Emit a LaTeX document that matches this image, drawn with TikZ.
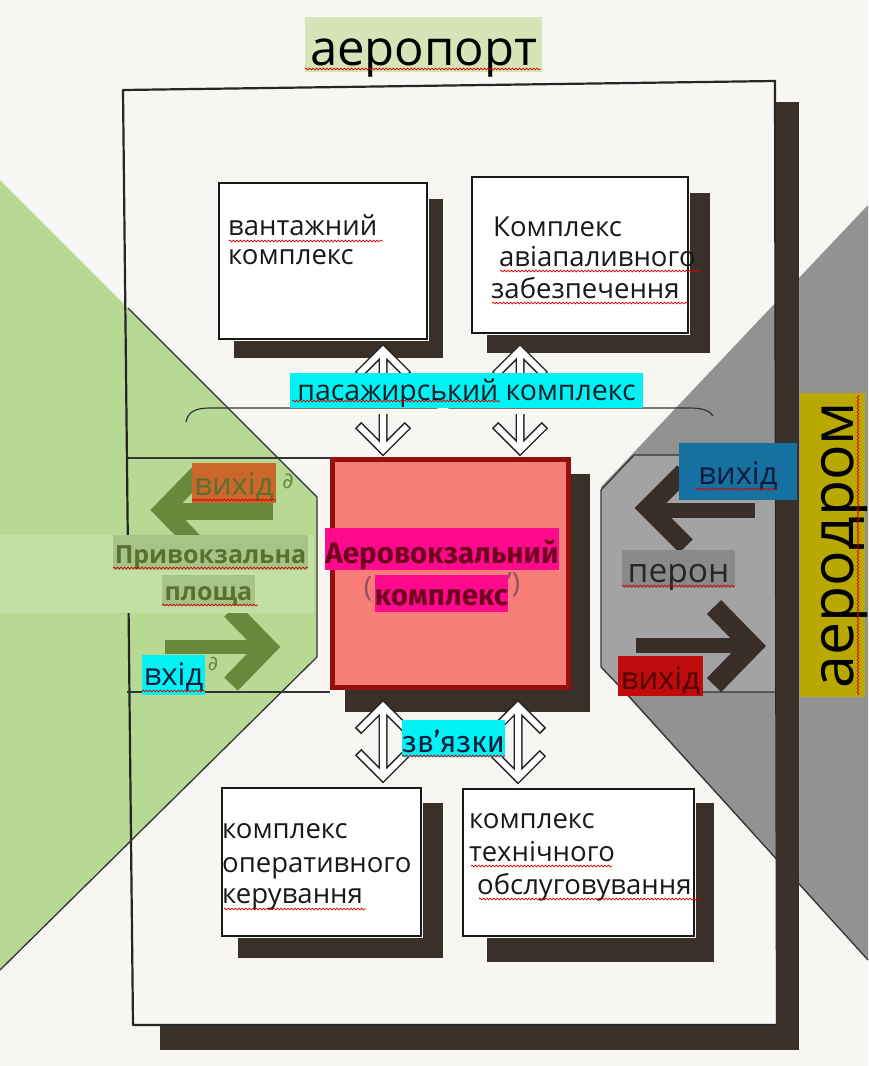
\documentclass[tikz,border=0pt]{standalone}
\usepackage{fontspec}
\setmainfont{Open Sans}
\newfontfamily\condfont{Fira Sans}
\newfontfamily\dvfont{DejaVu Sans}
\usetikzlibrary{calc,decorations.pathmorphing}
\definecolor{bgc}{RGB}{248,246,243}
\definecolor{grn}{RGB}{184,217,148}
\definecolor{grnband}{RGB}{194,223,164}
\definecolor{gry}{RGB}{146,146,146}
\definecolor{gryin}{RGB}{163,163,163}
\definecolor{shad}{RGB}{58,48,42}
\definecolor{titlebg}{RGB}{214,228,183}
\definecolor{cyanhl}{RGB}{0,242,242}
\definecolor{pinkfill}{RGB}{247,125,120}
\definecolor{pinkbd}{RGB}{150,15,15}
\definecolor{mgn}{RGB}{255,10,140}
\definecolor{avtext}{RGB}{110,0,30}
\definecolor{agreen}{RGB}{104,136,60}
\definecolor{orhl}{RGB}{205,102,44}
\definecolor{pvhl}{RGB}{166,196,134}
\definecolor{pvtext}{RGB}{88,114,46}
\definecolor{bluehl}{RGB}{22,112,160}
\definecolor{navy}{RGB}{12,28,60}
\definecolor{peronhl}{RGB}{138,138,138}
\definecolor{redhl}{RGB}{190,12,12}
\definecolor{redtext}{RGB}{80,0,0}
\definecolor{aerohl}{RGB}{184,168,0}
\definecolor{brarrow}{RGB}{58,46,40}
\definecolor{txtdark}{RGB}{16,30,40}
\newcommand\fsz[2]{\fontsize{#1}{#2}\selectfont}
\newcommand\hollowone[3]{%
  \foreach \lw/\cl/\L in {9/black!85/25,6/white/23.8}{%
    \draw[line width=\lw pt, draw=\cl, line join=miter] (#1) -- (#2) ($(#2)+(-\L,#3*\L)$) -- (#2) -- ($(#2)+(\L,#3*\L)$);
  }}
\newcommand\hollowtwo[2]{%
  \foreach \lw/\cl/\L in {9/black!85/25,6/white/23.8}{%
    \draw[line width=\lw pt, draw=\cl, line join=miter] (#1) -- (#2) ($(#1)+(-\L,\L)$) -- (#1) -- ($(#1)+(\L,\L)$) ($(#2)+(-\L,-\L)$) -- (#2) -- ($(#2)+(\L,-\L)$);
  }}
\begin{document}
\begin{tikzpicture}[x=1pt,y=-1pt,
  hl/.style={fill=#1, inner sep=0pt, anchor=base},
  cbox/.style={draw=black!90, line width=2.2pt, fill=white, inner sep=0pt, anchor=north west},
  btxt/.style={anchor=base west, inner sep=0pt, font=\fsz{27.5}{33}, text=black!90},
  spell/.style={draw=red!85!black, line width=0.7pt, decorate, decoration={snake, amplitude=0.9pt, segment length=3.5pt}},
  thinl/.style={draw=black!80, line width=1.3pt},
  framel/.style={draw=black!85, line width=2.2pt, line join=round}]
\useasboundingbox (0,0) rectangle (868,1066);
\fill[bgc] (0,0) rectangle (868,1066);
% side regions
\fill[grn] (0,180) -- (317,497) -- (317,657) -- (0,970) -- cycle;
\fill[gry] (868,205) -- (601,487) -- (601,667) -- (868,960) -- cycle;
\fill[gryin] (634,455) -- (777,455) -- (777,692) -- (625,692) -- (601,667) -- (601,490) -- cycle;
% frame
\draw[framel] (123,90) -- (775,81) -- (777,1025) -- (133,1025) -- cycle;
\fill[shad] (776,102) rectangle (799,1050);
\fill[shad] (160,1026) rectangle (799,1050);
% diagonals and platform outlines
\draw[thinl] (128,308) -- (317,497) -- (317,657) -- (0,970);
\draw[thinl] (127,458) -- (330,458);
\draw[thinl] (127,692) -- (330,692);
\draw[thinl] (777,455) -- (634,455) -- (601,490) -- (601,667) -- (625,692) -- (777,692);
\draw[thinl] (625,692) -- (868,960);
% brace
\draw[draw=black!80, line width=1.2pt] (186,422) .. controls (188,412) and (195,408) .. (210,408) -- (436,408) .. controls (440,408) and (442,405) .. (443,403) .. controls (444,405) and (446,408) .. (450,408) -- (690,408) .. controls (703,408) and (710,411) .. (713,416);
% boxes
\node[cbox, minimum width=208pt, minimum height=156pt] (b1) at (218,182) {};
\node[cbox, minimum width=216pt, minimum height=156pt] (b2) at (471,176) {};
\node[cbox, minimum width=199pt, minimum height=148pt] (b3) at (221,787) {};
\node[cbox, minimum width=231pt, minimum height=147pt] (b4) at (462,788) {};
\fill[shad] ($(b1.north east)+(1,17)$) rectangle ($(b1.south east)+(15,18)$);
\fill[shad] ($(b1.south west)+(16,1)$) rectangle ($(b1.south east)+(15,18)$);
\fill[shad] ($(b2.north east)+(1,17)$) rectangle ($(b2.south east)+(21,19)$);
\fill[shad] ($(b2.south west)+(16,1)$) rectangle ($(b2.south east)+(21,19)$);
\fill[shad] ($(b3.north east)+(1,16)$) rectangle ($(b3.south east)+(21,21)$);
\fill[shad] ($(b3.south west)+(17,1)$) rectangle ($(b3.south east)+(21,21)$);
\fill[shad] ($(b4.north east)+(1,15)$) rectangle ($(b4.south east)+(19,25)$);
\fill[shad] ($(b4.south west)+(25,1)$) rectangle ($(b4.south east)+(19,25)$);
% central block
\fill[shad] (345,474) rectangle (590,712);
\node[draw=pinkbd, line width=5pt, fill=pinkfill, inner sep=0pt, minimum width=236pt, minimum height=228pt, anchor=north west] (av) at (330,457) {};
% solid arrows
\draw[line width=17pt, draw=agreen] (163,511) -- (273,511);
\draw[line width=18pt, draw=agreen, line join=miter] (200,472) -- (163,510) -- (200,548);
\draw[line width=14pt, draw=agreen] (165,647) -- (262,647);
\draw[line width=19pt, draw=agreen, line join=miter] (231,610) -- (267,647) -- (231,684);
\draw[line width=15pt, draw=brarrow] (648,510) -- (755,510);
\draw[line width=19pt, draw=brarrow, line join=miter] (684,472) -- (648,508) -- (686,546);
\draw[line width=15pt, draw=brarrow] (636,645) -- (748,645);
\draw[line width=20pt, draw=brarrow, line join=miter] (714,607) -- (752,646) -- (714,685);
\fill[grnband] (0,535) rectangle (314,613);
% hollow connectors
\coordinate (ax1) at (383,0);
\coordinate (ax2) at (520,0);
\coordinate (ax3) at (518,0);
\coordinate (u1t) at ($(b1.south -| ax1)+(0,10)$);
\coordinate (u1s) at ($(u1t)+(0,40)$);
\coordinate (u2t) at ($(b2.south -| ax2)+(0,16)$);
\coordinate (u2s) at ($(u2t)+(0,40)$);
\coordinate (d1t) at ($(av.north -| ax1)+(0,-7)$);
\coordinate (d1s) at ($(d1t)+(0,-36)$);
\coordinate (d2t) at ($(av.north -| ax2)+(0,-7)$);
\coordinate (d2s) at ($(d2t)+(0,-36)$);
\coordinate (w1a) at ($(av.south -| ax1)+(0,16)$);
\coordinate (w1b) at ($(b3.north -| ax1)+(0,-10)$);
\coordinate (w2a) at ($(av.south -| ax3)+(0,16)$);
\coordinate (w2b) at ($(b4.north -| ax3)+(0,-10)$);
\hollowone{u1s}{u1t}{1}
\hollowone{u2s}{u2t}{1}
\hollowone{d1s}{d1t}{-1}
\hollowone{d2s}{d2t}{-1}
\hollowtwo{w1a}{w1b}
\hollowtwo{w2a}{w2b}
% labels
\node[hl=titlebg, minimum width=237pt, text height=48pt, text depth=7pt, font=\fsz{49}{49}, text=black] (title) at (423.5,65) {аеропорт};
\node[hl=cyanhl, minimum width=353pt, text height=27pt, text depth=8pt, font=\fsz{28.5}{30}, text=txtdark] (pk) at (466.5,400) {пасажирський комплекс};
\node[hl=orhl, minimum width=84pt, text height=32pt, text depth=8pt, font=\fsz{31}{31}, text=pvtext] (lex) at (234,495) {вихід};
\node[hl=pvhl, minimum width=195pt, text height=28pt, text depth=7pt, font=\bfseries\fsz{25}{25}, text=pvtext] (pv1) at (210.5,563) {Привокзальна};
\node[hl=pvhl, minimum width=93pt, text height=25pt, text depth=6pt, font=\bfseries\fsz{25}{25}, text=pvtext] (pv2) at (208.5,600) {площа};
\node[hl=cyanhl, minimum width=63pt, text height=30pt, text depth=10pt, font=\fsz{31}{31}, text=navy] (ent) at (173.5,685) {вхід};
\node[hl=mgn, minimum width=232pt, text height=35pt, text depth=7pt, font=\condfont\bfseries\fsz{29.5}{30}, text=avtext] (av1) at (442,563) {Аеровокзальний};
\node[hl=mgn, minimum width=133pt, text height=30pt, text depth=7pt, font=\condfont\bfseries\fsz{29.5}{30}, text=avtext] (av2) at (441.5,605) {комплекс};
\node[hl=bluehl, minimum width=118pt, text height=41pt, text depth=16pt, font=\fsz{31}{31}, text=navy] (rex) at (738,484) {вихід};
\node[hl=peronhl, minimum width=113pt, text height=32pt, text depth=6pt, font=\fsz{33.5}{34}, text=black!85] (per) at (678.5,582) {перон};
\node[hl=redhl, minimum width=85pt, text height=33pt, text depth=7pt, font=\fsz{31}{31}, text=redtext] (rex2) at (660.5,689) {вихід};
\node[hl=aerohl, rotate=90, minimum width=304pt, text height=53pt, text depth=12pt, font=\fsz{59}{59}, text=black] (aero) at (853,545) {аеродром};
\node[hl=cyanhl, minimum width=103pt, text height=32pt, text depth=5pt, font=\condfont\fsz{30}{30}, text=navy] (zv) at (453.5,752) {зв’язки};
% small handwritten marks
\node[text=agreen, font=\dvfont\fsz{22}{22}] (m1) at (288,481) {∂};
\node[text=agreen, font=\dvfont\fsz{20}{20}] (m2) at (213,664) {∂};
\node[text=avtext!70, font=\fsz{28}{28}] (m3) at (368,589) {(};
\node[text=avtext!70, font=\fsz{28}{28}, anchor=west, inner sep=0pt] (m4) at (507,585) {’)};
% box texts
\node[btxt] (t11) at (228,235) {вантажний};
\node[btxt] (t12) at (228,264) {комплекс};
\node[btxt] (t21) at (493,236) {Комплекс};
\node[btxt] (t22) at (499,266) {авіапаливного};
\node[btxt] (t23) at (491,298) {забезпечення};
\node[btxt] (t31) at (222,838) {комплекс};
\node[btxt] (t32) at (222,872) {оперативного};
\node[btxt] (t33) at (222,903) {керування};
\node[btxt] (t41) at (469,828) {комплекс};
\node[btxt] (t42) at (469,861) {технічного};
\node[btxt] (t43) at (477,894) {обслуговування};
% spelling underlines
\draw[spell] (305,69) -- (541,69);
\draw[spell] (229,241) -- (383,241);
\draw[spell] (500,271) -- (700,271);
\draw[spell] (492,303) -- (688,303);
\draw[spell] (292,401) -- (500,401);
\draw[spell] (192,500) -- (276,500);
\draw[spell] (113,568) -- (308,568);
\draw[spell] (162,605) -- (258,605);
\draw[spell] (142,691) -- (205,691);
\draw[spell] (622,586) -- (735,586);
\draw[spell] (618,694) -- (703,694);
\draw[spell] (695,489) -- (777,489);
\draw[spell] (858,395) -- (858,695);
\draw[spell] (402,756) -- (505,756);
\draw[spell] (224,909) -- (366,909);
\draw[spell] (471,866) -- (612,866);
\draw[spell] (479,899) -- (700,899);
\end{tikzpicture}
\end{document}
